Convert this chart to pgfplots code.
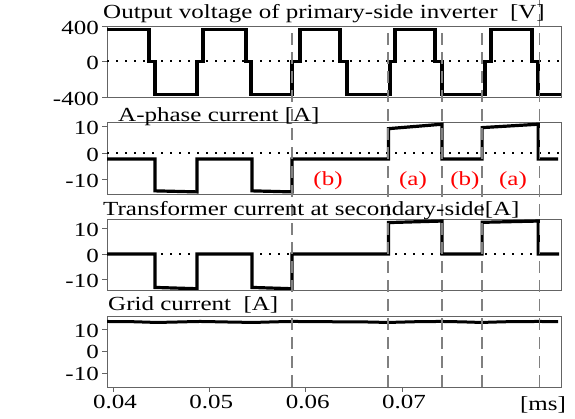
\documentclass[border=0pt]{standalone}
\usepackage{fontspec}
\setmainfont{Liberation Serif}[FakeStretch=1.25]
\usepackage{pgfplots}
\pgfplotsset{compat=1.18}
\definecolor{axgray}{RGB}{100,100,100}
\definecolor{dashgray}{RGB}{128,128,128}
\pgfplotsset{
  panel/.style={
    scale only axis, width=454pt, anchor=south west,
    xmin=0.039377, xmax=0.086507,
    scaled x ticks=false, scaled y ticks=false,
    axis line style={axgray, line width=0.8pt},
    every tick/.style={axgray, line width=0.8pt},
    tick align=outside, major tick length=5pt,
    xtick=\empty, ytick pos=left, xtick pos=bottom,
    every tick label/.append style={font=\fontsize{20}{24}\selectfont},
    yticklabel style={inner xsep=3pt, yshift=-1.5pt},
  },
  sig/.style={black, line width=3.2pt, line join=miter},
  zline/.style={black, line width=2pt, dash pattern=on 2pt off 7pt},
}
\begin{document}
\begin{tikzpicture}[font=\fontsize{20}{24}\selectfont]
\path[use as bounding box] (0,0) rectangle (575pt,419pt);

% Panel 1: output voltage
\begin{axis}[panel, at={(107pt,322pt)}, height=71pt,
  ymin=-400, ymax=400, ytick={-400,0,400}, yticklabels={-400,0,400}]
\addplot[zline] coordinates {(0.039377,0) (0.086507,0)};
\addplot[sig] coordinates {
(0.039377,365) (0.043737,365) (0.043737,0) (0.044360,0) (0.044360,-375)
(0.048720,-375) (0.048720,0) (0.049343,0) (0.049343,365) (0.053807,365)
(0.053807,0) (0.054326,0) (0.054326,-375) (0.058582,-375) (0.058582,0)
(0.059413,0) (0.059413,365) (0.063565,365) (0.063565,0) (0.064292,0)
(0.064292,-375) (0.068756,-375) (0.068756,0) (0.069275,0) (0.069275,365)
(0.073427,365) (0.073427,0) (0.074154,0) (0.074154,-375) (0.078617,-375)
(0.078617,0) (0.079240,0) (0.079240,365) (0.083496,365) (0.083496,0)
(0.084119,0) (0.084119,-375) (0.086507,-375)};
\end{axis}

% Panel 2: A-phase current
\begin{axis}[panel, at={(107pt,225pt)}, height=72pt,
  ymin=-15.7, ymax=11.85, ytick={-10,0,10}, yticklabels={-10,0,10}]
\addplot[zline] coordinates {(0.039377,0) (0.086507,0)};
\addplot[sig] coordinates {
(0.039377,-2.3) (0.044360,-2.3) (0.044360,-14.5) (0.048720,-14.9)
(0.048720,-2.3) (0.054430,-2.3) (0.054430,-14.5) (0.058582,-14.9)
(0.058582,-2.3) (0.068600,-2.3) (0.068600,9.3) (0.074160,11.0)
(0.074160,-2.3) (0.078320,-2.3) (0.078320,9.7) (0.084150,11.0)
(0.084150,-2.3) (0.086200,-2.3)};
\node[red, anchor=base] at (axis cs:0.06232,-12.4) {(b)};
\node[red, anchor=base] at (axis cs:0.07114,-12.4) {(a)};
\node[red, anchor=base] at (axis cs:0.07654,-12.4) {(b)};
\node[red, anchor=base] at (axis cs:0.08152,-12.4) {(a)};
\end{axis}

% Panel 3: transformer current
\begin{axis}[panel, at={(107pt,129pt)}, height=71pt,
  ymin=-14.1, ymax=13.7, ytick={-10,0,10}, yticklabels={-10,0,10}]
\addplot[zline] coordinates {(0.039377,0) (0.086507,0)};
\addplot[sig] coordinates {
(0.039377,0) (0.044360,0) (0.044360,-13.1) (0.048720,-13.6)
(0.048720,0) (0.054430,0) (0.054430,-13.1) (0.058582,-13.6)
(0.058582,0) (0.068600,0) (0.068600,12.3) (0.074160,12.9)
(0.074160,0) (0.078320,0) (0.078320,12.4) (0.084150,12.9)
(0.084150,0) (0.086300,0)};
\end{axis}

% Panel 4: grid current + dashed markers
\begin{axis}[panel, at={(107pt,32pt)}, height=71pt, clip=false,
  ymin=-16.4, ymax=15.9, ytick={-10,0,10}, yticklabels={-10,0,10},
  xtick={0.04,0.05,0.06,0.07}, xticklabels={0.04,0.05,0.06,0.07},
  xticklabel style={inner ysep=3pt, xshift=2pt}]
\addplot[sig, line width=3pt, smooth] coordinates {
(0.03938,13.4) (0.0420,13.3) (0.0445,13.0) (0.0470,13.2) (0.0490,13.4)
(0.0515,13.2) (0.0545,13.0) (0.0565,13.2) (0.0586,13.4) (0.0620,13.3)
(0.0660,13.2) (0.0686,13.0) (0.0715,13.3) (0.0742,13.4) (0.0765,13.2)
(0.0783,13.0) (0.0810,13.3) (0.0842,13.4) (0.0862,13.3)};
\addplot[dashgray, line width=1.3pt, dash pattern=on 12pt off 7pt] coordinates {(0.05859,-16.4) (0.05859,147.7)};
\addplot[dashgray, line width=1.3pt, dash pattern=on 12pt off 7pt] coordinates {(0.06856,-16.4) (0.06856,147.7)};
\addplot[dashgray, line width=1.3pt, dash pattern=on 12pt off 7pt] coordinates {(0.07416,-16.4) (0.07416,147.7)};
\addplot[dashgray, line width=1.3pt, dash pattern=on 12pt off 7pt] coordinates {(0.07832,-16.4) (0.07832,147.7)};
\addplot[dashgray, line width=1.3pt, dash pattern=on 12pt off 7pt] coordinates {(0.08424,-16.4) (0.08424,159.5)};
\end{axis}

\node[anchor=base west, inner sep=0] at (103pt,400pt) {Output voltage of primary-side inverter~~[V]};
\node[anchor=base west, inner sep=0] at (118pt,297pt) {A-phase current [A]};
\node[anchor=base west, inner sep=0] at (103pt,203pt) {Transformer current at secondary-side[A]};
\node[anchor=base west, inner sep=0] at (108pt,108.5pt) {Grid current~~[A]};
\node[anchor=base, inner sep=0] at (543pt,8.6pt) {[ms]};
\end{tikzpicture}
\end{document}
